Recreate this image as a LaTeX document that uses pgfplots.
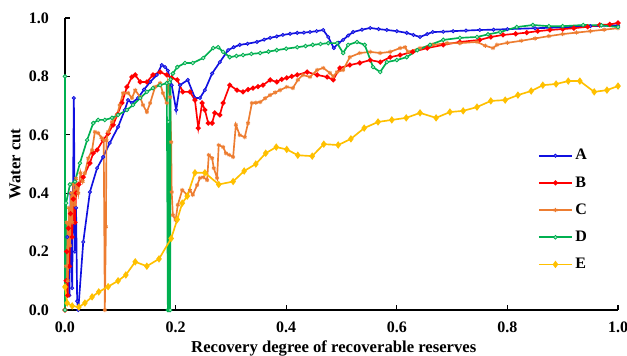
\documentclass[border=0pt]{standalone}
\usepackage{fontspec}
\setmainfont{Liberation Serif}
\usepackage{pgfplots}
\pgfplotsset{compat=1.18}
\definecolor{cA}{RGB}{16,16,224}
\definecolor{cB}{RGB}{255,0,0}
\definecolor{cC}{RGB}{237,125,49}
\definecolor{cD}{RGB}{0,176,80}
\definecolor{cE}{RGB}{255,192,0}
\begin{document}
\begin{tikzpicture}
\useasboundingbox (-48.75pt,-33.75pt) rectangle (421.5pt,232.5pt);
\begin{axis}[
  at={(0,0)}, anchor=south west, scale only axis,
  width=414.75pt, height=219pt,
  xmin=0, xmax=1, ymin=0, ymax=1,
  clip=false,
  axis lines=left, axis line style={-, line width=0.8pt},
  tick align=inside, major tick length=4pt,
  tick style={line width=0.8pt, black},
  xtick={0,0.2,0.4,0.6,0.8,1.0}, xticklabels={0.0,0.2,0.4,0.6,0.8,1.0},
  ytick={0,0.2,0.4,0.6,0.8,1.0}, yticklabels={0.0,0.2,0.4,0.6,0.8,1.0},
  ticklabel style={font=\bfseries\fontsize{12}{14}\selectfont},
  yticklabel style={xshift=-8.5pt},
  xticklabel style={yshift=-5pt},
  xlabel={Recovery degree of recoverable reserves},
  ylabel={Water cut},
  label style={font=\bfseries\fontsize{12.5}{14}\selectfont},
  x label style={at={(axis description cs:0.486,-0.13)}, anchor=center},
  y label style={at={(axis description cs:-0.0904,0.5)}, anchor=center},
  legend style={at={(0.855,0.56)}, anchor=north west, draw=none, fill=none,
    font=\bfseries\fontsize{12}{14}\selectfont, row sep=7pt, inner sep=0pt},
  legend cell align=left,
  legend image code/.code={\draw[mark repeat=2,mark phase=2,#1] plot coordinates {(0pt,0pt)(12.4pt,0pt)(24.8pt,0pt)};},
  every axis plot/.append style={line width=1.25pt},
]
% A
\addplot[cA, mark=*, mark size=1.2pt, mark options={fill=cA!55!white, line width=0.6pt}] coordinates {
(0.004,0.25)(0.008,0.05)(0.010,0.40)(0.013,0.075)(0.016,0.726)(0.018,0.20)(0.020,0.35)(0.022,0.03)(0.024,0.0)
(0.033,0.233)(0.045,0.404)(0.058,0.486)(0.069,0.524)(0.081,0.572)(0.096,0.627)(0.108,0.685)(0.114,0.719)
(0.121,0.709)(0.132,0.726)(0.143,0.755)(0.154,0.781)(0.166,0.805)(0.175,0.839)(0.181,0.832)(0.186,0.82)
(0.193,0.77)(0.201,0.685)(0.208,0.77)(0.222,0.788)(0.235,0.726)(0.244,0.726)(0.253,0.753)(0.266,0.810)
(0.280,0.849)(0.295,0.890)(0.305,0.900)(0.316,0.908)(0.330,0.912)(0.347,0.918)(0.360,0.926)(0.371,0.932)
(0.383,0.937)(0.394,0.942)(0.407,0.946)(0.420,0.949)(0.432,0.950)(0.443,0.952)(0.455,0.955)(0.467,0.959)
(0.476,0.935)(0.486,0.897)(0.495,0.915)(0.503,0.925)(0.512,0.940)(0.521,0.952)(0.537,0.960)(0.552,0.966)
(0.567,0.962)(0.582,0.959)(0.600,0.955)(0.618,0.949)(0.630,0.942)(0.642,0.935)(0.655,0.945)(0.665,0.952)
(0.684,0.953)(0.702,0.955)(0.725,0.957)(0.750,0.959)(0.775,0.960)(0.80,0.962)(0.85,0.965)(0.90,0.968)(0.95,0.972)(1.0,0.975)
};
\addlegendentry{A}
% B
\addplot[cB, mark=*, mark size=1.2pt] coordinates {
(0,0)(0.002,0.10)(0.003,0.20)(0.005,0.05)(0.006,0.28)(0.008,0.15)(0.010,0.33)(0.013,0.25)(0.015,0.38)
(0.018,0.30)(0.020,0.40)(0.025,0.43)(0.033,0.455)(0.045,0.503)(0.051,0.537)(0.058,0.548)(0.069,0.582)
(0.078,0.605)(0.087,0.634)(0.095,0.670)(0.103,0.709)(0.112,0.764)(0.121,0.798)(0.127,0.805)(0.136,0.781)
(0.148,0.781)(0.159,0.805)(0.172,0.815)(0.184,0.805)(0.193,0.795)(0.203,0.788)(0.213,0.747)(0.226,0.747)
(0.235,0.719)(0.241,0.623)(0.248,0.709)(0.253,0.685)(0.259,0.640)(0.266,0.640)(0.271,0.675)(0.280,0.668)
(0.286,0.709)(0.298,0.770)(0.311,0.753)(0.322,0.747)(0.331,0.755)(0.340,0.760)(0.349,0.765)(0.358,0.770)
(0.371,0.788)(0.383,0.781)(0.392,0.790)(0.401,0.795)(0.410,0.800)(0.420,0.805)(0.438,0.815)(0.456,0.805)
(0.474,0.798)(0.485,0.788)(0.497,0.829)(0.515,0.839)(0.533,0.846)(0.552,0.856)(0.570,0.849)(0.588,0.866)
(0.606,0.873)(0.629,0.884)(0.655,0.897)(0.684,0.908)(0.714,0.918)(0.750,0.925)(0.770,0.935)(0.792,0.942)
(0.815,0.946)(0.835,0.950)(0.855,0.955)(0.877,0.959)(0.90,0.962)(0.92,0.965)(0.945,0.970)(0.967,0.976)(0.985,0.978)(1.0,0.983)
};
\addlegendentry{B}
% C
\addplot[cC, mark=asterisk, mark size=1.6pt, mark options={line width=0.7pt}] coordinates {
(0,0.0)(0.002,0.15)(0.003,0.30)(0.005,0.10)(0.007,0.35)(0.009,0.22)(0.011,0.40)(0.013,0.30)(0.015,0.43)
(0.018,0.36)(0.020,0.45)(0.024,0.40)(0.028,0.47)(0.032,0.44)(0.036,0.469)(0.042,0.52)(0.049,0.548)
(0.054,0.610)(0.060,0.606)(0.066,0.59)(0.070,0.582)(0.072,0.0)(0.074,0.285)(0.075,0.58)(0.078,0.610)
(0.085,0.644)(0.094,0.668)(0.099,0.702)(0.105,0.743)(0.114,0.743)(0.121,0.726)(0.127,0.753)(0.136,0.729)
(0.141,0.702)(0.148,0.678)(0.154,0.709)(0.163,0.764)(0.172,0.777)(0.177,0.743)(0.184,0.709)(0.186,0.777)
(0.190,0.729)(0.192,0.575)(0.193,0.404)(0.195,0.325)(0.200,0.308)(0.204,0.36)(0.212,0.411)(0.221,0.394)
(0.226,0.41)(0.231,0.394)(0.239,0.428)(0.244,0.452)(0.250,0.455)(0.257,0.445)(0.260,0.531)(0.266,0.520)
(0.269,0.486)(0.275,0.452)(0.278,0.565)(0.286,0.558)(0.291,0.537)(0.297,0.531)(0.304,0.524)(0.309,0.634)
(0.316,0.599)(0.325,0.592)(0.331,0.640)(0.338,0.709)(0.345,0.710)(0.353,0.712)(0.362,0.725)(0.371,0.736)
(0.380,0.745)(0.389,0.753)(0.401,0.764)(0.412,0.760)(0.421,0.788)(0.430,0.805)(0.443,0.798)(0.456,0.822)
(0.467,0.829)(0.479,0.812)(0.485,0.800)(0.492,0.815)(0.503,0.822)(0.515,0.866)(0.533,0.880)(0.552,0.884)
(0.570,0.880)(0.588,0.884)(0.606,0.897)(0.615,0.900)(0.620,0.884)(0.642,0.897)(0.665,0.908)(0.691,0.914)
(0.714,0.914)(0.745,0.918)(0.760,0.905)(0.774,0.897)(0.781,0.908)(0.80,0.915)(0.825,0.922)(0.85,0.930)
(0.875,0.938)(0.90,0.945)(0.925,0.950)(0.95,0.955)(0.975,0.960)(1.0,0.965)
};
\addlegendentry{C}
% D
\addplot[cD, mark=*, mark size=1.4pt, mark options={fill=cD!30!white, line width=0.6pt}] coordinates {
(0,0.80)(0,0)(0.002,0.366)(0.009,0.43)(0.018,0.44)(0.027,0.503)(0.040,0.582)(0.051,0.640)(0.060,0.651)
(0.072,0.651)(0.085,0.658)(0.096,0.668)(0.112,0.685)(0.123,0.702)(0.136,0.726)(0.148,0.747)(0.159,0.760)
(0.172,0.770)(0.184,0.777)(0.186,0.0)(0.187,0.644)(0.188,0.0)(0.189,0.78)(0.190,0.0)(0.191,0.79)
(0.195,0.81)(0.203,0.832)(0.217,0.846)(0.231,0.846)(0.250,0.863)(0.268,0.897)(0.277,0.900)(0.286,0.884)
(0.298,0.866)(0.310,0.870)(0.322,0.873)(0.337,0.877)(0.353,0.880)(0.368,0.885)(0.383,0.890)(0.400,0.895)
(0.420,0.900)(0.435,0.904)(0.448,0.908)(0.462,0.911)(0.476,0.914)(0.492,0.914)(0.503,0.880)(0.512,0.908)
(0.528,0.918)(0.542,0.908)(0.557,0.832)(0.570,0.815)(0.582,0.849)(0.600,0.856)(0.618,0.866)(0.637,0.890)
(0.660,0.908)(0.684,0.925)(0.714,0.932)(0.745,0.935)(0.765,0.944)(0.787,0.952)(0.817,0.969)(0.846,0.976)
(0.875,0.972)(0.90,0.972)(0.937,0.976)(0.97,0.975)(1.0,0.969)
};
\addlegendentry{D}
% E
\addplot[cE, mark=diamond*, mark size=1.8pt] coordinates {
(0,0.079)(0.004,0.024)(0.013,0.014)(0.025,0.010)(0.036,0.024)(0.049,0.045)(0.061,0.062)(0.078,0.080)
(0.096,0.100)(0.110,0.120)(0.127,0.165)(0.148,0.150)(0.170,0.175)(0.192,0.245)(0.203,0.310)(0.212,0.366)
(0.221,0.390)(0.235,0.470)(0.253,0.470)(0.278,0.430)(0.304,0.440)(0.324,0.476)(0.345,0.500)(0.363,0.537)
(0.382,0.558)(0.401,0.550)(0.421,0.530)(0.447,0.527)(0.468,0.568)(0.494,0.565)(0.517,0.586)(0.541,0.623)
(0.566,0.644)(0.591,0.651)(0.617,0.658)(0.642,0.675)(0.671,0.658)(0.696,0.678)(0.720,0.682)(0.745,0.695)
(0.770,0.716)(0.796,0.719)(0.819,0.736)(0.843,0.750)(0.864,0.770)(0.888,0.774)(0.910,0.784)(0.931,0.784)
(0.957,0.747)(0.980,0.753)(1.0,0.767)
};
\addlegendentry{E}
\end{axis}
\end{tikzpicture}
\end{document}
